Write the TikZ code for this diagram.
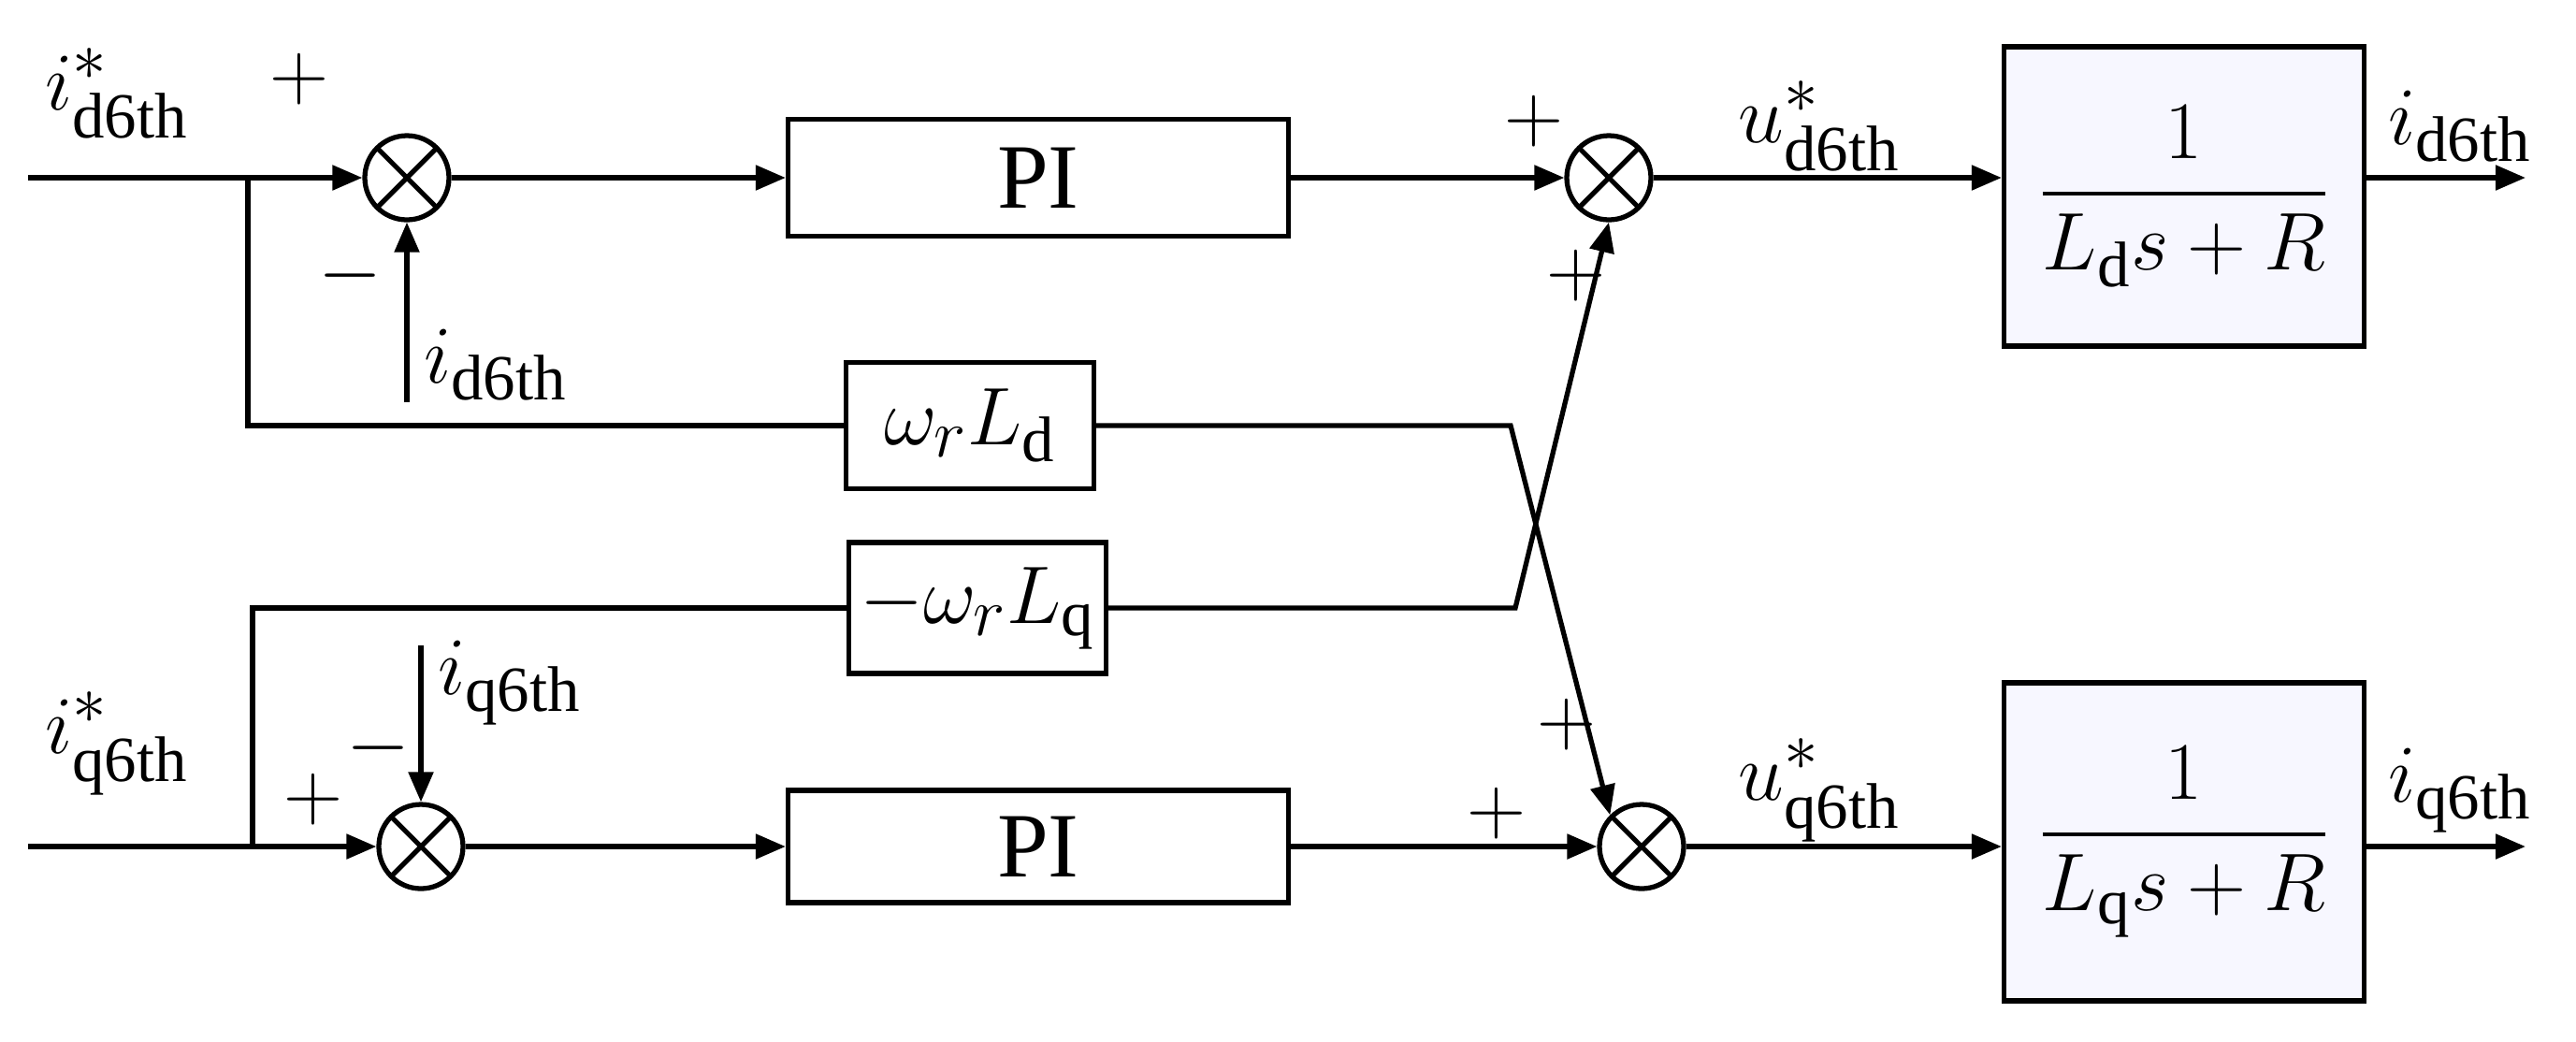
\documentclass[tikz,border=0pt]{standalone}
\usepackage{amsmath}
\usepackage{fontspec}
\setmainfont{Liberation Serif}
\usetikzlibrary{arrows.meta}
\begin{document}
\begin{tikzpicture}[x=1cm,y=-1cm,
  every path/.style={line width=1.5pt},
  >={Triangle[length=0.32cm,width=0.26cm]},
  sum/.style={circle,draw,minimum size=0.9cm,inner sep=0pt,
    path picture={\draw (path picture bounding box.north west)--(path picture bounding box.south east)
      (path picture bounding box.north east)--(path picture bounding box.south west);}},
  blk/.style={draw,fill=white,inner sep=0pt},
  lbl/.style={font=\fontsize{28}{30}\selectfont}]
\useasboundingbox (0,0) rectangle (27.54,11.13);
% d-axis row
\coordinate (din) at (0.3,1.9);
\coordinate (dbr) at (2.65,1.9);
\node[sum] (s1) at (4.35,1.9) {};
\node[blk,minimum width=5.35cm,minimum height=1.25cm,lbl] (pi1) at (11.1,1.9) {PI};
\node[sum] (s2) at (17.2,1.9) {};
\node[blk,fill=blue!3,minimum width=3.85cm,minimum height=3.2cm,lbl] (g1) at (23.35,2.1) {$\dfrac{1}{L_{\mathrm{d}}s+R}$};
\coordinate (dout) at (27.0,1.9);
\coordinate (fb1) at (4.35,4.3);
% q-axis row
\coordinate (qin) at (0.3,9.05);
\coordinate (qbr) at (2.7,9.05);
\node[sum] (s3) at (4.5,9.05) {};
\node[blk,minimum width=5.35cm,minimum height=1.2cm,lbl] (pi2) at (11.1,9.05) {PI};
\node[sum] (s4) at (17.55,9.05) {};
\node[blk,fill=blue!3,minimum width=3.85cm,minimum height=3.4cm,lbl] (g2) at (23.35,9.0) {$\dfrac{1}{L_{\mathrm{q}}s+R}$};
\coordinate (qout) at (27.0,9.05);
\coordinate (fb2) at (4.5,6.9);
% cross coupling
\node[blk,minimum width=2.65cm,minimum height=1.35cm,lbl] (wd) at (10.37,4.55) {$\omega_r L_{\mathrm{d}}$};
\node[blk,minimum width=2.75cm,minimum height=1.4cm,lbl] (wq) at (10.45,6.5) {$-\omega_r L_{\mathrm{q}}$};
\coordinate (dk) at (16.15,4.55);
\coordinate (qk) at (16.2,6.5);
% connectors
\draw[->] (din) -- (s1);
\draw[->] (s1) -- (pi1);
\draw[->] (pi1) -- (s2);
\draw[->] (s2) -- (g1.west|-s2);
\draw[->] (g1.east|-dout) -- (dout);
\draw[->] (fb1) -- (s1);
\draw (dbr) |- (wd);
\draw[->] (wd) -- (dk) -- (s4.north west);
\draw[->] (qin) -- (s3);
\draw[->] (s3) -- (pi2);
\draw[->] (pi2) -- (s4);
\draw[->] (s4) -- (g2.west|-s4);
\draw[->] (g2.east|-qout) -- (qout);
\draw[->] (fb2) -- (s3);
\draw (qbr) |- (wq);
\draw[->] (wq) -- (qk) -- (s2.south);
% labels
\node[lbl] (l1) at (1.25,1.0) {$i^*_{\mathrm{d6th}}$};
\node[lbl] (l2) at (3.2,0.85) {$+$};
\node[lbl] (l3) at (3.75,2.95) {$-$};
\node[lbl] (l4) at (5.3,3.9) {$i_{\mathrm{d6th}}$};
\node[lbl] (l5) at (16.4,1.3) {$+$};
\node[lbl] (l6) at (16.85,2.95) {$+$};
\node[lbl] (l7) at (19.45,1.35) {$u^*_{\mathrm{d6th}}$};
\node[lbl] (l8) at (26.3,1.35) {$i_{\mathrm{d6th}}$};
\node[lbl] (l9) at (1.25,7.95) {$i^*_{\mathrm{q6th}}$};
\node[lbl] (l10) at (3.35,8.55) {$+$};
\node[lbl] (l11) at (4.05,8.0) {$-$};
\node[lbl] (l12) at (5.45,7.3) {$i_{\mathrm{q6th}}$};
\node[lbl] (l13) at (16.75,7.75) {$+$};
\node[lbl] (l14) at (16.0,8.7) {$+$};
\node[lbl] (l15) at (19.45,8.45) {$u^*_{\mathrm{q6th}}$};
\node[lbl] (l16) at (26.3,8.45) {$i_{\mathrm{q6th}}$};
\end{tikzpicture}
\end{document}
